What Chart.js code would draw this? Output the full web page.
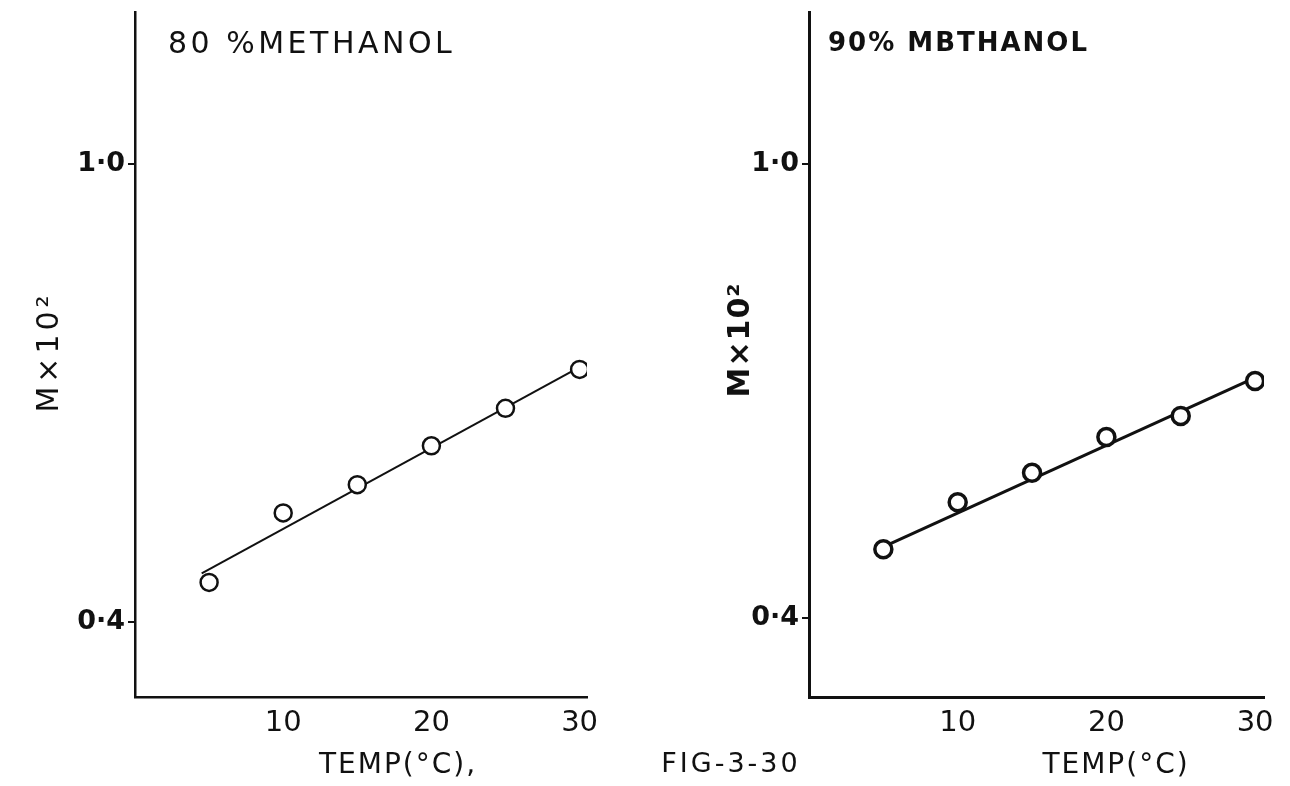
<!DOCTYPE html>
<html>
<head>
<meta charset="utf-8">
<title>FIG-3-30</title>
<script src="https://cdn.jsdelivr.net/npm/chart.js@4/dist/chart.umd.min.js"></script>
<style>
  html, body { margin: 0; padding: 0; background: #fff; }
  #wrap { position: relative; width: 1290px; height: 786px; background: #fff; overflow: hidden; }
  canvas { position: absolute; top: 0; }
  #left { left: 0; }
  #right { left: 645px; }
</style>
</head>
<body>
<div id="wrap">
  <canvas id="left" width="645" height="786"></canvas>
  <canvas id="right" width="645" height="786"></canvas>
</div>
<script>
// Temperatures (°C) and measured M × 10² values
const tempC = [5, 10, 15, 20, 25, 30];
const m80 = [0.452, 0.543, 0.580, 0.631, 0.680, 0.731];
const m90 = [0.491, 0.553, 0.592, 0.639, 0.667, 0.713];

// Straight-line fits drawn through each set (end points)
const fit80T = [4.5, 30];
const fit80M = [0.464, 0.734];
const fit90T = [5, 29.6];
const fit90M = [0.494, 0.714];

// Tick values shown on the axes
const xTickValues = [10, 20, 30];
const yTickValues = [0.4, 1.0];

const INK = '#111';
const FONT = '"DejaVu Sans", "Liberation Sans", sans-serif';

const toPoints = (xs, ys) => xs.map((x, i) => ({ x: x, y: ys[i] }));

// Free-standing captions drawn onto a chart canvas
const captionPlugin = {
  id: 'captions',
  afterDraw(chart, args, opts) {
    const ctx = chart.ctx;
    (opts.items || []).forEach(it => {
      ctx.save();
      ctx.fillStyle = INK;
      ctx.font = (it.weight || 'normal') + ' ' + it.size + 'px ' + FONT;
      ctx.letterSpacing = (it.spacing || 0) + 'px';
      ctx.textAlign = it.align || 'left';
      ctx.textBaseline = it.baseline || 'alphabetic';
      ctx.translate(it.x, it.y);
      if (it.rotate) ctx.rotate(it.rotate);
      ctx.fillText(it.text, 0, 0);
      ctx.restore();
    });
  }
};

function makePanel(canvasId, cfg) {
  const sizeY = s => { s.width = cfg.yAxisWidth; s.paddingTop = 0; s.paddingBottom = 0; };
  const sizeX = s => { s.height = 89; s.paddingLeft = 0; s.paddingRight = 0; };
  return new Chart(document.getElementById(canvasId), {
    type: 'scatter',
    data: {
      datasets: [
        {
          label: 'measured',
          data: toPoints(tempC, cfg.values),
          showLine: false,
          pointRadius: cfg.pointRadius,
          pointBorderWidth: cfg.pointBorder,
          pointBorderColor: INK,
          pointBackgroundColor: '#fff'
        },
        {
          label: 'fit',
          data: toPoints(cfg.fitT, cfg.fitM),
          showLine: true,
          borderColor: INK,
          borderWidth: cfg.lineWidth,
          pointRadius: 0,
          fill: false
        }
      ]
    },
    options: {
      responsive: false,
      devicePixelRatio: 1,
      animation: false,
      layout: { padding: { top: cfg.top, right: cfg.right, left: 0, bottom: 0 } },
      plugins: {
        legend: { display: false },
        tooltip: { enabled: false },
        captions: { items: cfg.captions }
      },
      scales: {
        x: {
          type: 'linear',
          min: 0,
          max: cfg.xMax,
          afterBuildTicks: s => { s.ticks = xTickValues.map(v => ({ value: v })); },
          afterFit: sizeX,
          grid: { display: false, drawTicks: false },
          border: { display: true, color: INK, width: cfg.axisWidth },
          ticks: {
            color: INK,
            padding: 9,
            font: { family: FONT, size: 29, weight: cfg.xTickWeight },
            callback: v => String(v)
          }
        },
        y: {
          type: 'linear',
          min: cfg.yMin,
          max: cfg.yMax,
          afterBuildTicks: s => { s.ticks = yTickValues.map(v => ({ value: v })); },
          afterFit: sizeY,
          grid: { display: true, drawOnChartArea: false, drawTicks: true, tickLength: 7, color: INK, lineWidth: 2 },
          border: { display: true, color: INK, width: cfg.axisWidth },
          ticks: {
            color: INK,
            padding: 3,
            font: { family: FONT, size: 27, weight: cfg.yTickWeight },
            callback: v => v.toFixed(1).replace('.', '·')
          }
        }
      }
    },
    plugins: [captionPlugin]
  });
}

// 80 % methanol
makePanel('left', {
  values: m80, fitT: fit80T, fitM: fit80M,
  xMax: 30.5, yMin: 0.302, yMax: 1.199,
  yAxisWidth: 135, top: 12, right: 58,
  pointRadius: 8.5, pointBorder: 2.5, lineWidth: 2, axisWidth: 2.5,
  xTickWeight: 'normal', yTickWeight: 'bold',
  captions: [
    { text: '80 %METHANOL', x: 168, y: 53, size: 30, spacing: 3.5 },
    { text: 'M×10²', x: 58, y: 352, size: 30, spacing: 4, align: 'center', rotate: -Math.PI / 2 },
    { text: 'TEMP(°C),', x: 398, y: 773, size: 28, spacing: 2, align: 'center' }
  ]
});

// 90 % methanol
makePanel('right', {
  values: m90, fitT: fit90T, fitM: fit90M,
  xMax: 30.6, yMin: 0.296, yMax: 1.2,
  yAxisWidth: 164, top: 10, right: 26,
  pointRadius: 8.5, pointBorder: 3.5, lineWidth: 3, axisWidth: 3,
  xTickWeight: 'normal', yTickWeight: 'bold',
  captions: [
    { text: '90% MBTHANOL', x: 183, y: 51, size: 26, spacing: 2, weight: 'bold' },
    { text: 'M×10²', x: 104, y: 340, size: 30, spacing: 1, align: 'center', rotate: -Math.PI / 2, weight: 'bold' },
    { text: 'TEMP(°C)', x: 471, y: 773, size: 28, spacing: 2, align: 'center' },
    { text: 'FIG-3-30', x: 86, y: 772, size: 27, spacing: 3, align: 'center' }
  ]
});
</script>
</body>
</html>
